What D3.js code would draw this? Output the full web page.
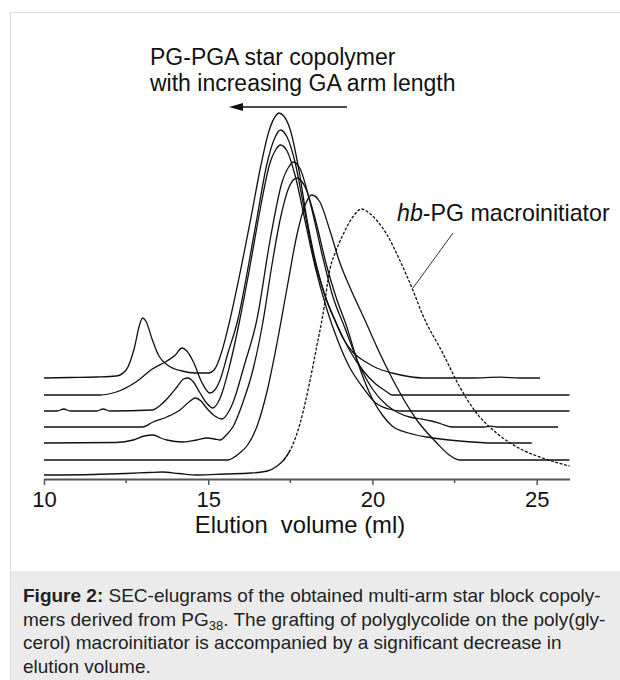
<!DOCTYPE html>
<html>
<head>
<meta charset="utf-8">
<script src="https://cdn.jsdelivr.net/npm/d3@7"></script>
<style>
  body { margin: 0; background: #fff; }
  svg text { font-family: "Liberation Sans", Arial, sans-serif; }
</style>
</head>
<body>
<svg id="chart" width="620" height="680"></svg>
<script>
// tick values on the elution axis (ml)
const majorTicks = [10, 15, 20, 25];
const minorTicks = [12.5, 17.5, 22.5];

// vertical offset of each trace (stacked baselines), top to bottom
const traceOffsets = [101, 84, 68, 52, 36, 19, 4];

// SEC traces: [elution volume (ml), detector signal]
const trace1 = [[10,0],[10.8,0.5],[11.6,1],[12.2,2],[12.5,8],[12.75,30],[12.9,52],[13.0,60],[13.1,57],[13.3,38],[13.5,22],[13.8,12],[14.2,7],[14.6,5],[15.0,5],[15.2,9],[15.4,25],[15.66,58],[16.0,110],[16.3,160],[16.6,212],[16.85,247],[17.05,262],[17.15,265],[17.3,262],[17.5,248],[17.75,210],[18.0,160],[18.3,112],[18.6,78],[18.85,58],[19.1,40],[19.4,26],[19.8,16],[20.13,10],[20.6,5],[21.1,1.5],[21.6,0],[23.0,0],[23.9,0.8],[24.5,0],[25.1,0]];
const trace2 = [[10,0],[11.7,0],[12.2,3],[12.8,13],[13.3,26],[13.74,34],[14.0,40],[14.2,47],[14.35,44],[14.55,33],[14.8,13],[15.05,2],[15.2,5],[15.36,15],[15.6,42],[15.9,75],[16.2,125],[16.5,180],[16.78,230],[17.0,255],[17.2,265],[17.4,258],[17.65,232],[17.9,190],[18.2,140],[18.55,100],[18.9,72],[19.3,45],[19.7,25],[20.1,11],[20.4,4],[20.6,0],[26,0]];
const trace3 = [[10,0],[10.4,0],[10.6,2],[10.8,0],[11.6,0],[11.8,2],[12.0,0],[13.3,1],[13.62,8],[13.85,16],[14.05,24],[14.25,32],[14.38,33],[14.55,29],[14.75,18],[14.95,8],[15.14,3],[15.35,12],[15.65,45],[15.96,91],[16.3,150],[16.6,205],[16.88,248],[17.05,261],[17.2,266],[17.4,260],[17.65,235],[17.95,190],[18.25,145],[18.6,103],[18.95,70],[19.3,44],[19.7,24],[20.1,8],[20.5,2],[20.85,0],[26,0]];
const trace4 = [[10,0],[13.0,0],[13.32,5],[13.74,10],[14.14,17],[14.45,26],[14.6,29],[14.78,26],[14.95,19],[15.2,11],[15.42,8],[15.6,14],[15.75,24],[16.1,62],[16.48,107],[16.9,190],[17.25,245],[17.45,260],[17.6,265],[17.8,258],[18.1,225],[18.5,168],[18.8,130],[19.15,100],[19.6,62],[20.0,38],[20.43,22],[20.8,14],[21.13,10],[21.5,8],[21.8,6],[22.1,3],[22.4,0],[23.4,0],[23.6,0.8],[23.8,0],[25.65,0]];
const trace5 = [[10,0],[12.2,0.5],[12.72,3],[13.05,7],[13.33,8],[13.55,5],[13.74,3],[14.24,1],[14.65,3],[14.96,5],[15.2,4],[15.36,3],[15.55,8],[15.75,16],[16.05,40],[16.36,73],[16.66,120],[16.95,180],[17.2,225],[17.45,255],[17.7,265],[17.95,256],[18.25,225],[18.6,178],[18.9,145],[19.2,118],[19.6,76],[20.0,44],[20.3,28],[20.6,17],[21.1,10],[21.65,6],[22.2,3.5],[22.66,2],[23.66,0],[24.85,0]];
const trace6 = [[10,0],[15.6,0],[15.75,2],[15.96,7],[16.2,15],[16.5,35],[16.8,70],[17.1,118],[17.4,172],[17.7,225],[17.95,255],[18.15,265],[18.4,258],[18.7,230],[19.0,198],[19.35,170],[19.77,140],[20.22,107],[20.74,73],[21.35,40],[21.96,17],[22.3,6],[22.66,0],[26,0]];
// hb-PG macroinitiator
const macroTrace = [[10,0],[11.5,0.5],[12.5,1.5],[13.2,2.5],[13.6,3],[14.1,1.5],[14.7,0],[15.5,1],[16.3,2],[16.8,4],[17.1,9],[17.3,15],[17.5,25],[17.8,52],[18.09,93],[18.3,128],[18.49,160],[18.7,205],[18.9,225],[19.1,240],[19.4,258],[19.67,266],[19.9,262],[20.15,254],[20.43,241],[20.83,215],[21.23,185],[21.53,160],[22.14,122],[22.66,88],[23.17,62],[23.78,42],[24.57,25],[25.18,17],[26,9]];
const dashFrom = 17.3;

const titleLines = ["PG-PGA star copolymer", "with increasing GA arm length"];
const captionLines = [
  [["Figure 2:", true], [" SEC-elugrams of the obtained multi-arm star block copoly-", false]],
  [["mers derived from PG", false], ["38", "sub"], [". The grafting of polyglycolide on the poly(gly-", "after"]],
  [["cerol) macroinitiator is accompanied by a significant decrease in", false]],
  [["elution volume.", false]]
];

const svg = d3.select("#chart");

// figure frame and caption panel
svg.append("rect").attr("x", 10.5).attr("y", 12.5).attr("width", 700).attr("height", 700)
  .attr("fill", "#fff").attr("stroke", "#dadada");
svg.append("rect").attr("x", 11).attr("y", 571).attr("width", 609).attr("height", 109)
  .attr("fill", "#ebebeb");

const x = d3.scaleLinear().domain([10, 26]).range([44, 569.5]);
const y = d3.scaleLinear().domain([0, 370]).range([479, 109]);

const plot = svg.append("g");

const line = (off) => d3.line()
  .x(d => x(d[0]))
  .y(d => y(d[1] + off))
  .curve(d3.curveMonotoneX);

const traces = [trace1, trace2, trace3, trace4, trace5, trace6];
plot.selectAll("path.trace")
  .data(traces)
  .join("path")
  .attr("class", "trace")
  .attr("d", (d, i) => line(traceOffsets[i])(d))
  .attr("fill", "none")
  .attr("stroke", "#111")
  .attr("stroke-width", 1.3);

const macroOff = traceOffsets[6];
plot.append("path")
  .attr("d", line(macroOff)(macroTrace.filter(d => d[0] <= dashFrom + 0.2)))
  .attr("fill", "none").attr("stroke", "#111").attr("stroke-width", 1.3);
plot.append("path")
  .attr("d", line(macroOff)(macroTrace.filter(d => d[0] >= dashFrom)))
  .attr("fill", "none").attr("stroke", "#111").attr("stroke-width", 1.3)
  .attr("stroke-dasharray", "3,1.6");

// x axis
const axis = svg.append("g").attr("transform", `translate(0,${y(0)})`)
  .call(d3.axisBottom(x).tickValues(majorTicks).tickSize(6).tickSizeOuter(0).tickPadding(6).tickFormat(d3.format("d")));
axis.select(".domain").attr("stroke", "#555").attr("stroke-width", 2);
axis.selectAll(".tick line").attr("stroke", "#555").attr("stroke-width", 1.5);
axis.selectAll(".tick text").attr("font-size", 22).attr("fill", "#111")
  .attr("font-family", "Liberation Sans, Arial, sans-serif");

svg.append("g").attr("transform", `translate(0,${y(0)})`)
  .selectAll("line").data(minorTicks).join("line")
  .attr("x1", d => x(d)).attr("x2", d => x(d)).attr("y1", 0).attr("y2", 4)
  .attr("stroke", "#555").attr("stroke-width", 1.5);

svg.append("text").attr("x", 300).attr("y", 533).attr("text-anchor", "middle")
  .attr("font-size", 23.8).attr("fill", "#111").attr("xml:space", "preserve")
  .style("white-space", "pre").text("Elution  volume (ml)");

// annotations
svg.selectAll("text.title").data(titleLines).join("text")
  .attr("class", "title").attr("x", 150).attr("y", (d, i) => 65 + i * 26)
  .attr("font-size", 23).attr("fill", "#111").text(d => d);

svg.append("line").attr("x1", 347).attr("x2", 236).attr("y1", 107).attr("y2", 107)
  .attr("stroke", "#111").attr("stroke-width", 1.5);
svg.append("path").attr("d", "M229,107 L243,103 L243,111 Z").attr("fill", "#111");

const hb = svg.append("text").attr("x", 397).attr("y", 221).attr("font-size", 23.2).attr("fill", "#111");
hb.append("tspan").attr("font-style", "italic").text("hb");
hb.append("tspan").text("-PG macroinitiator");
svg.append("line").attr("x1", 453).attr("y1", 233).attr("x2", 413).attr("y2", 288)
  .attr("stroke", "#333").attr("stroke-width", 1);

// caption
const cap = svg.append("g").attr("font-size", 19).attr("fill", "#222");
captionLines.forEach((parts, i) => {
  const t = cap.append("text").attr("x", 23).attr("y", 602 + i * 23.5).attr("xml:space", "preserve");
  parts.forEach(([s, kind]) => {
    const ts = t.append("tspan").text(s);
    if (kind === true) ts.attr("font-weight", "bold");
    if (kind === "sub") ts.attr("font-size", 13).attr("dy", 4);
    if (kind === "after") ts.attr("dy", -4);
  });
});
</script>
</body>
</html>
